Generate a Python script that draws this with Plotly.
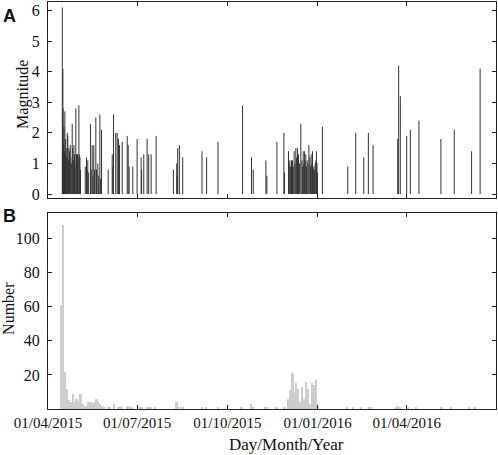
import pandas as pd
import plotly.graph_objects as go
from plotly.subplots import make_subplots

START = pd.Timestamp('2015-04-01')

# panel A: events, day offset from 01/04/2015 and magnitude
event_day = [
	14.6, 14.9, 15.2, 15.4, 15.8, 16.3, 16.8, 17.2, 17.6, 18.0, 18.5, 19.0, 19.7, 20.2, 20.8,
	21.3, 21.9, 22.7, 23.3, 23.8, 24.7, 25.2, 25.8, 26.4, 27.0, 27.6, 28.4, 28.9, 29.5, 30.1,
	30.7, 31.5, 32.0, 32.6, 33.2,
	38.0, 39.3, 40.0, 40.6, 41.5, 43.4, 44.0, 45.1, 45.8, 46.7, 47.5, 48.8, 49.5, 50.8, 51.6,
	52.9, 53.5, 54.6,
	61.4, 65.5, 66.3, 66.8, 69.1, 70.6, 71.9, 73.0, 75.7, 80.8, 81.8, 82.8, 86.5, 90.9, 95.0,
	95.5, 97.7, 101.1, 102.7, 105.2, 110.3,
	127.9, 131.3, 131.8, 132.3, 134.0, 137.4, 157.1, 161.8, 173.4, 198.5, 207.6, 209.4, 222.3,
	223.3, 233.5, 240.6, 241.3,
	245.3, 246.0, 246.7, 247.5, 248.4, 249.4, 250.2, 251.1, 252.0, 252.8, 253.6, 254.5, 255.5,
	256.5, 257.9, 259.0, 259.7, 260.3, 261.0, 261.6, 262.3, 263.0, 263.7, 264.4, 265.3, 266.1,
	267.1, 267.8, 268.4, 269.1, 269.8, 270.5, 271.1, 271.8, 272.5, 273.2, 273.8, 274.4, 274.9,
	279.9, 305.8, 313.9, 322.1, 326.8, 331.6, 356.7, 357.7, 359.4, 365.9, 369.6, 378.4, 400.8,
	414.4, 432.1, 440.8,
]
event_mag = [
	6.1, 1.7, 4.1, 2.8, 1.6, 2.2, 1.4, 2.7, 1.3, 1.8, 1.5, 1.2, 2.0, 1.9, 1.1,
	1.5, 1.4, 1.6, 1.2, 1.0, 2.3, 1.5, 1.1, 1.6, 1.3, 0.9, 2.8, 1.3, 1.3, 1.3,
	1.2, 2.9, 1.3, 1.2, 0.8,
	0.9, 1.2, 0.8, 1.1, 0.7, 2.3, 0.8, 1.6, 0.6, 1.6, 0.8, 2.5, 0.8, 1.0, 0.6,
	2.6, 0.5, 2.1,
	0.8, 1.3, 0.9, 2.6, 2.0, 2.0, 1.8, 1.6, 1.7, 1.9, 1.6, 0.9, 0.9, 1.8, 1.2,
	0.8, 1.3, 1.8, 1.3, 1.3, 1.9,
	0.8, 1.0, 0.6, 1.5, 1.6, 1.2, 1.4, 1.2, 1.7, 2.9, 1.2, 0.8, 1.1,
	0.6, 1.7, 2.0, 0.7,
	1.4, 1.0, 1.1, 0.9, 1.1, 1.1, 0.9, 1.4, 1.0, 1.5, 1.2, 1.5, 1.3,
	1.0, 2.3, 1.1, 0.9, 1.4, 1.0, 1.4, 1.1, 1.3, 0.9, 1.1, 1.0, 1.6,
	1.2, 0.9, 1.3, 1.0, 1.4, 0.8, 0.9, 0.8, 1.0, 1.1, 1.4, 1.0, 0.7,
	2.2, 0.9, 2.0, 1.2, 2.0, 1.6, 1.8, 4.2, 3.2, 1.9, 2.1, 2.4, 1.8,
	2.1, 1.4, 4.1,
]

# panel B: number of events per 2-day bin (bin centre, day offset)
count_day = [
	13.5, 15.5, 17.5, 19.5, 21.5, 23.5, 25.5, 27.5, 29.5, 31.5, 33.5, 35.5, 37.5, 39.5, 41.5,
	43.5, 45.5, 47.5, 49.5, 51.5, 53.5, 55.5, 57.5,
	61.5, 63.5, 67.5, 71.5, 73.5, 75.5, 81.5, 83.5, 85.5, 93.5, 95.5, 101.5, 103.5, 105.5, 109.5,
	131.5, 133.5, 137.5, 157.5, 161.5, 173.5, 197.5, 207.5, 209.5, 221.5, 223.5, 233.5, 241.5,
	245.5, 247.5, 249.5, 251.5, 253.5, 255.5, 257.5, 259.5, 261.5, 263.5, 265.5, 267.5, 269.5,
	271.5, 273.5, 275.5,
	305.5, 311.5, 319.5, 327.5, 329.5, 355.5, 357.5, 359.5, 367.5, 375.5, 401.5, 411.5, 429.5,
	435.5,
]
count_val = [
	61, 108, 22, 12, 5, 4, 9, 4, 6, 4, 9, 3, 2, 2, 4,
	4, 3, 4, 6, 4, 3, 2, 1,
	1, 1, 3, 1, 2, 1, 2, 1, 1, 1, 1, 1, 1, 1, 1,
	4, 1, 1, 1, 1, 1, 1, 3, 1, 1, 1, 1, 1,
	6, 11, 21, 10, 15, 12, 4, 13, 6, 16, 12, 3, 15,
	14, 17, 1,
	1, 1, 1, 1, 1, 1, 2, 1, 1, 1, 1, 1, 1,
	1,
]

tick_dates = ['2015-04-01', '2015-07-01', '2015-10-01', '2016-01-01', '2016-04-01']
tick_text = ['01/04/2015', '01/07/2015', '01/10/2015', '01/01/2016', '01/04/2016']


def to_date(days):
	return START + pd.to_timedelta(days, unit='D')


# stems for panel A
stem_x, stem_y = [], []
for d, m in zip(event_day, event_mag):
	t = to_date(d)
	stem_x += [t, t, None]
	stem_y += [0, m, None]

fig = make_subplots(rows=2, cols=1, shared_xaxes=True)
fig.add_trace(go.Scatter(
	x=stem_x, y=stem_y, mode='lines',
	line={'width': 1, 'color': '#333333'},
	showlegend=False, hoverinfo='skip'
), row=1, col=1)
fig.add_trace(go.Bar(
	x=[to_date(d) for d in count_day], y=count_val,
	width=2 * 86400000,
	marker={'color': '#cdcdcd', 'line': {'width': 0}},
	showlegend=False
), row=2, col=1)

serif = 'Liberation Serif'
axis_style = dict(
	showline=True, linecolor='#222', linewidth=1, mirror='ticks',
	ticks='inside', ticklen=4, tickcolor='#222', tickwidth=1,
	showgrid=False, zeroline=False, automargin=False,
)

fig.update_xaxes(
	type='date', range=['2015-04-01', '2016-07-01'],
	tickvals=tick_dates, ticktext=tick_text,
	tickfont={'family': serif, 'size': 15, 'color': '#111'},
	**axis_style
)
fig.update_xaxes(showticklabels=False, row=1, col=1)
fig.update_yaxes(tickfont={'family': serif, 'size': 16, 'color': '#111'},
	ticklabelstandoff=4, **axis_style)
fig.update_yaxes(range=[-0.13, 6.28], tickvals=[0, 1, 2, 3, 4, 5, 6], row=1, col=1)
fig.update_yaxes(range=[0, 115], tickvals=[20, 40, 60, 80, 100], row=2, col=1)


def label(text, x, y, size=16, family=serif, angle=0):
	return dict(text=text, x=x, y=y, xref='paper', yref='paper', textangle=angle,
		showarrow=False, xanchor='center', yanchor='middle',
		font={'family': family, 'size': size, 'color': '#111'})


fig.update_layout(
	width=498, height=455,
	margin={'l': 48, 'r': 2, 't': 2, 'b': 46},
	paper_bgcolor='white', plot_bgcolor='white',
	bargap=0,
	yaxis={'domain': [0.5184, 1]},
	yaxis2={'domain': [0, 0.4816]},
	annotations=[
		label('<b>A</b>', -0.085, 0.966, 18, 'Liberation Sans'),
		label('<b>B</b>', -0.087, 0.475, 18, 'Liberation Sans'),
		label('Magnitude', -0.056, 0.774, angle=-90),
		label('Number', -0.087, 0.246, angle=-90),
		label('Day/Month/Year', 0.533, -0.088, 17),
	],
)

# page body has an 8px default margin; drop it so the figure sits at 0,0
fig.write_html("out.html", config={'displayModeBar': False},
	post_script="document.body.style.margin='0';")
